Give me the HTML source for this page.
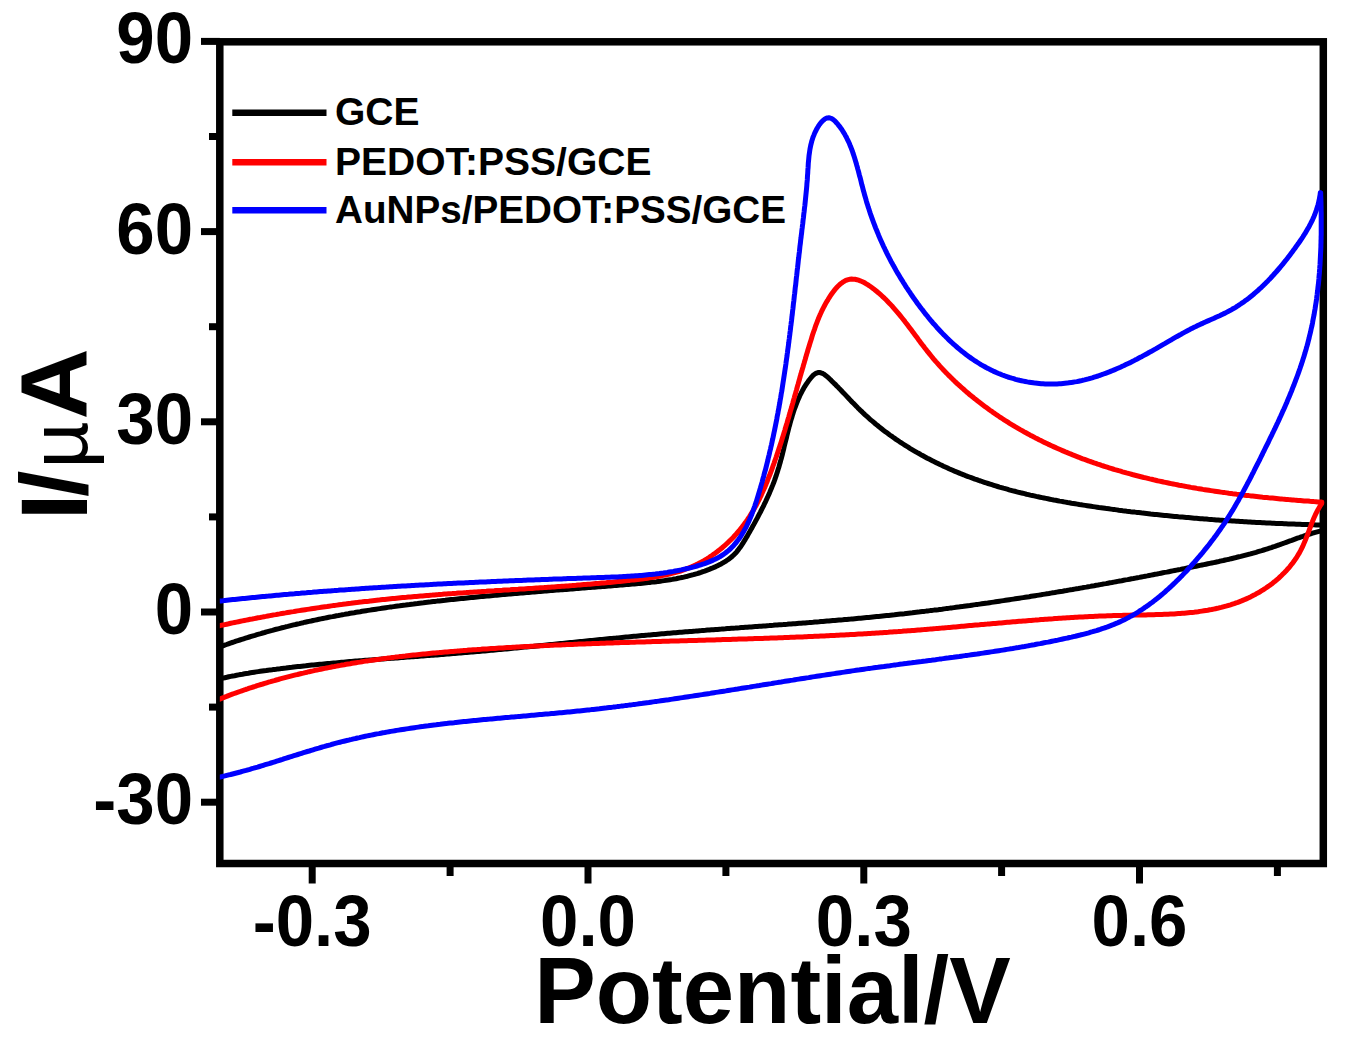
<!DOCTYPE html>
<html><head><meta charset="utf-8"><style>
html,body{margin:0;padding:0;background:#fff;width:1345px;height:1044px;overflow:hidden}
svg{position:absolute;left:0;top:0;display:block}
text{font-family:"Liberation Sans",sans-serif;font-weight:bold;fill:#000}
.tl{font-size:71.5px}
.lg{font-size:39px}
.at{font-size:95px}
</style></head><body>
<svg width="1345" height="1044" viewBox="0 0 1345 1044">
<rect x="0" y="0" width="1345" height="1044" fill="#fff"/>
<line x1="312.2" y1="863.5" x2="312.2" y2="883.5" stroke="#000" stroke-width="7"/>
<line x1="588.0" y1="863.5" x2="588.0" y2="883.5" stroke="#000" stroke-width="7"/>
<line x1="863.8" y1="863.5" x2="863.8" y2="883.5" stroke="#000" stroke-width="7"/>
<line x1="1139.5" y1="863.5" x2="1139.5" y2="883.5" stroke="#000" stroke-width="7"/>
<line x1="450.1" y1="863.5" x2="450.1" y2="876" stroke="#000" stroke-width="7"/>
<line x1="725.9" y1="863.5" x2="725.9" y2="876" stroke="#000" stroke-width="7"/>
<line x1="1001.6" y1="863.5" x2="1001.6" y2="876" stroke="#000" stroke-width="7"/>
<line x1="1277.4" y1="863.5" x2="1277.4" y2="876" stroke="#000" stroke-width="7"/>
<line x1="201" y1="41.4" x2="219.8" y2="41.4" stroke="#000" stroke-width="7"/>
<line x1="201" y1="231.6" x2="219.8" y2="231.6" stroke="#000" stroke-width="7"/>
<line x1="201" y1="421.8" x2="219.8" y2="421.8" stroke="#000" stroke-width="7"/>
<line x1="201" y1="612.0" x2="219.8" y2="612.0" stroke="#000" stroke-width="7"/>
<line x1="201" y1="802.2" x2="219.8" y2="802.2" stroke="#000" stroke-width="7"/>
<line x1="209" y1="136.5" x2="219.8" y2="136.5" stroke="#000" stroke-width="7"/>
<line x1="209" y1="326.7" x2="219.8" y2="326.7" stroke="#000" stroke-width="7"/>
<line x1="209" y1="516.9" x2="219.8" y2="516.9" stroke="#000" stroke-width="7"/>
<line x1="209" y1="707.1" x2="219.8" y2="707.1" stroke="#000" stroke-width="7"/>

<rect x="219.8" y="41.8" width="1103.5" height="821.7" fill="none" stroke="#000" stroke-width="7.5"/>
<clipPath id="c"><rect x="219.8" y="41.8" width="1104.5" height="821.7"/></clipPath>
<g clip-path="url(#c)">
<polyline points="219.0,647.1 220.9,646.5 222.8,645.8 224.7,645.1 226.5,644.5 228.4,643.8 230.3,643.1 232.2,642.5 234.1,641.9 236.0,641.2 237.9,640.6 239.8,640.0 241.7,639.4 243.6,638.8 245.5,638.2 247.4,637.6 249.3,637.0 251.2,636.4 253.1,635.8 255.0,635.3 256.9,634.7 258.9,634.1 260.8,633.6 262.7,633.0 264.6,632.5 266.5,631.9 268.5,631.4 270.4,630.9 272.3,630.4 274.2,629.8 276.2,629.3 278.1,628.8 280.0,628.3 282.0,627.8 283.9,627.3 285.8,626.8 287.8,626.4 289.7,625.9 291.6,625.4 293.6,624.9 295.5,624.5 297.5,624.0 299.4,623.6 301.4,623.1 303.3,622.7 305.2,622.2 307.2,621.8 309.1,621.4 311.1,621.0 313.1,620.5 315.0,620.1 317.0,619.7 318.9,619.3 320.9,618.9 322.8,618.5 324.8,618.1 326.7,617.7 328.7,617.3 330.7,616.9 332.6,616.6 334.6,616.2 336.5,615.8 338.5,615.5 340.5,615.1 342.4,614.7 344.4,614.4 346.4,614.0 348.3,613.7 350.3,613.3 352.3,613.0 354.2,612.7 356.2,612.3 358.2,612.0 360.2,611.7 362.1,611.3 364.1,611.0 366.1,610.7 368.1,610.4 370.0,610.1 372.0,609.8 374.0,609.5 376.0,609.2 377.9,608.9 379.9,608.6 381.9,608.3 383.9,608.0 385.8,607.7 387.8,607.4 389.8,607.1 391.8,606.9 393.7,606.6 395.7,606.3 397.7,606.0 399.7,605.8 401.7,605.5 403.6,605.2 405.6,605.0 407.6,604.7 409.6,604.5 411.6,604.2 413.6,604.0 415.5,603.7 417.5,603.5 419.5,603.2 421.5,603.0 423.5,602.8 425.4,602.5 427.4,602.3 429.4,602.1 431.4,601.8 433.4,601.6 435.3,601.4 437.3,601.1 439.3,600.9 441.3,600.7 443.3,600.5 445.3,600.3 447.2,600.0 449.2,599.8 451.2,599.6 453.2,599.4 455.2,599.2 457.2,599.0 459.1,598.8 461.1,598.6 463.1,598.4 465.1,598.2 467.1,598.0 469.1,597.8 471.0,597.6 473.0,597.4 475.0,597.2 477.0,597.0 479.0,596.8 481.0,596.6 482.9,596.4 484.9,596.2 486.9,596.1 488.9,595.9 490.9,595.7 492.9,595.5 494.9,595.3 496.8,595.2 498.8,595.0 500.8,594.8 502.8,594.6 504.8,594.4 506.8,594.3 508.8,594.1 510.8,593.9 512.7,593.8 514.7,593.6 516.7,593.4 518.7,593.2 520.7,593.1 522.7,592.9 524.7,592.7 526.7,592.6 528.6,592.4 530.6,592.2 532.6,592.1 534.6,591.9 536.6,591.8 538.6,591.6 540.6,591.4 542.6,591.3 544.6,591.1 546.6,590.9 548.5,590.8 550.5,590.6 552.5,590.5 554.5,590.3 556.5,590.1 558.5,590.0 560.5,589.8 562.5,589.7 564.5,589.5 566.5,589.4 568.5,589.2 570.5,589.0 572.5,588.9 574.5,588.7 576.4,588.6 578.4,588.4 580.4,588.3 582.4,588.1 584.4,587.9 586.4,587.8 588.4,587.6 590.4,587.5 592.4,587.3 594.4,587.2 596.4,587.0 598.4,586.8 600.4,586.7 602.4,586.5 604.4,586.4 606.4,586.2 608.4,586.0 610.4,585.9 612.4,585.7 614.4,585.5 616.4,585.4 618.4,585.2 620.4,585.1 622.4,584.9 624.4,584.7 626.4,584.6 628.4,584.4 630.4,584.2 632.4,584.1 634.4,583.9 636.4,583.7 638.4,583.5 640.4,583.4 642.4,583.2 644.4,583.0 646.4,582.8 648.4,582.6 650.4,582.4 652.4,582.1 654.4,581.9 656.4,581.7 658.3,581.4 660.3,581.2 662.3,580.9 664.3,580.6 666.3,580.3 668.2,580.0 670.2,579.7 672.2,579.4 674.1,579.0 676.1,578.7 678.0,578.3 680.0,577.9 681.9,577.5 683.8,577.1 685.8,576.6 687.7,576.2 689.6,575.7 691.5,575.2 693.4,574.7 695.3,574.1 697.2,573.6 699.1,573.0 701.0,572.4 702.9,571.7 704.7,571.1 706.6,570.4 708.5,569.7 710.3,568.9 712.1,568.2 714.0,567.4 715.8,566.6 717.6,565.7 719.4,564.8 721.2,563.9 722.9,562.9 724.6,561.9 726.3,560.8 727.9,559.7 729.5,558.6 731.1,557.3 732.6,556.0 734.0,554.7 735.4,553.3 736.7,551.8 738.0,550.2 739.2,548.6 740.4,547.0 741.5,545.4 742.6,543.7 743.7,541.9 744.8,540.2 745.8,538.4 746.9,536.7 747.9,534.9 748.9,533.1 749.9,531.4 750.9,529.6 751.9,527.9 752.8,526.1 753.8,524.4 754.8,522.6 755.7,520.9 756.7,519.1 757.6,517.4 758.5,515.6 759.4,513.9 760.4,512.1 761.2,510.4 762.1,508.6 763.0,506.9 763.9,505.1 764.7,503.3 765.6,501.6 766.4,499.8 767.2,498.0 768.0,496.3 768.8,494.5 769.6,492.7 770.3,490.9 771.1,489.1 771.8,487.3 772.6,485.4 773.3,483.6 774.0,481.8 774.7,479.9 775.3,478.1 776.0,476.2 776.6,474.3 777.2,472.4 777.8,470.5 778.4,468.6 779.0,466.7 779.5,464.8 780.1,462.8 780.6,460.9 781.2,458.9 781.7,456.9 782.2,455.0 782.7,453.0 783.2,451.0 783.7,449.0 784.1,447.0 784.6,445.0 785.1,443.0 785.6,441.0 786.1,439.1 786.6,437.1 787.0,435.1 787.5,433.1 788.0,431.1 788.5,429.1 789.0,427.1 789.6,425.2 790.1,423.2 790.6,421.3 791.2,419.3 791.8,417.4 792.4,415.4 793.0,413.5 793.6,411.6 794.2,409.7 794.9,407.8 795.6,406.0 796.3,404.1 797.0,402.3 797.7,400.5 798.5,398.7 799.3,396.9 800.1,395.1 801.0,393.4 801.9,391.6 802.8,389.9 803.7,388.3 804.7,386.6 805.7,385.0 806.8,383.4 807.9,381.8 809.0,380.2 810.2,378.7 811.4,377.2 812.6,375.9 813.9,374.7 815.2,373.8 816.6,373.1 818.0,372.6 819.4,372.5 820.8,372.8 822.3,373.3 823.8,374.1 825.3,375.2 826.8,376.4 828.3,377.7 829.7,379.0 831.2,380.4 832.7,381.9 834.1,383.3 835.6,384.7 837.0,386.2 838.4,387.6 839.8,389.1 841.2,390.5 842.6,392.0 844.0,393.4 845.4,394.9 846.8,396.4 848.1,397.8 849.5,399.3 850.9,400.7 852.3,402.2 853.7,403.6 855.1,405.0 856.5,406.4 857.9,407.9 859.3,409.3 860.7,410.7 862.2,412.0 863.6,413.4 865.1,414.8 866.6,416.1 868.1,417.4 869.5,418.8 871.0,420.1 872.6,421.4 874.1,422.7 875.6,424.0 877.2,425.2 878.7,426.5 880.3,427.7 881.9,429.0 883.4,430.2 885.0,431.4 886.6,432.6 888.2,433.8 889.8,435.0 891.5,436.1 893.1,437.3 894.7,438.4 896.4,439.6 898.1,440.7 899.7,441.8 901.4,442.9 903.1,444.0 904.8,445.1 906.5,446.2 908.2,447.2 909.9,448.3 911.6,449.3 913.3,450.3 915.0,451.3 916.8,452.4 918.5,453.3 920.3,454.3 922.0,455.3 923.8,456.3 925.5,457.2 927.3,458.2 929.1,459.1 930.9,460.0 932.7,460.9 934.4,461.8 936.2,462.7 938.0,463.6 939.9,464.5 941.7,465.3 943.5,466.2 945.3,467.0 947.1,467.8 949.0,468.7 950.8,469.5 952.6,470.3 954.5,471.1 956.3,471.8 958.2,472.6 960.0,473.4 961.9,474.1 963.7,474.8 965.6,475.6 967.4,476.3 969.3,477.0 971.2,477.7 973.1,478.4 974.9,479.1 976.8,479.7 978.7,480.4 980.6,481.0 982.5,481.7 984.3,482.3 986.2,482.9 988.1,483.5 990.0,484.1 991.9,484.7 993.8,485.3 995.7,485.9 997.6,486.5 999.5,487.1 1001.4,487.6 1003.4,488.2 1005.3,488.7 1007.2,489.2 1009.1,489.8 1011.0,490.3 1012.9,490.8 1014.9,491.3 1016.8,491.8 1018.7,492.3 1020.7,492.8 1022.6,493.2 1024.5,493.7 1026.5,494.2 1028.4,494.6 1030.3,495.1 1032.3,495.5 1034.2,495.9 1036.2,496.4 1038.1,496.8 1040.1,497.2 1042.0,497.6 1044.0,498.0 1045.9,498.4 1047.9,498.8 1049.8,499.2 1051.8,499.6 1053.7,500.0 1055.7,500.3 1057.7,500.7 1059.6,501.1 1061.6,501.4 1063.5,501.8 1065.5,502.1 1067.5,502.5 1069.4,502.8 1071.4,503.2 1073.4,503.5 1075.3,503.8 1077.3,504.1 1079.3,504.5 1081.3,504.8 1083.2,505.1 1085.2,505.4 1087.2,505.7 1089.2,506.0 1091.1,506.3 1093.1,506.6 1095.1,506.9 1097.1,507.2 1099.0,507.5 1101.0,507.7 1103.0,508.0 1105.0,508.3 1107.0,508.6 1108.9,508.8 1110.9,509.1 1112.9,509.4 1114.9,509.6 1116.9,509.9 1118.8,510.2 1120.8,510.4 1122.8,510.7 1124.8,510.9 1126.8,511.2 1128.8,511.4 1130.7,511.7 1132.7,511.9 1134.7,512.1 1136.7,512.4 1138.7,512.6 1140.7,512.8 1142.7,513.1 1144.6,513.3 1146.6,513.5 1148.6,513.7 1150.6,514.0 1152.6,514.2 1154.6,514.4 1156.6,514.6 1158.6,514.8 1160.5,515.0 1162.5,515.2 1164.5,515.4 1166.5,515.6 1168.5,515.8 1170.5,516.0 1172.5,516.2 1174.5,516.4 1176.5,516.6 1178.5,516.8 1180.4,516.9 1182.4,517.1 1184.4,517.3 1186.4,517.5 1188.4,517.6 1190.4,517.8 1192.4,518.0 1194.4,518.2 1196.4,518.3 1198.4,518.5 1200.4,518.7 1202.4,518.8 1204.3,519.0 1206.3,519.1 1208.3,519.3 1210.3,519.4 1212.3,519.6 1214.3,519.7 1216.3,519.9 1218.3,520.0 1220.3,520.2 1222.3,520.3 1224.3,520.4 1226.3,520.6 1228.3,520.7 1230.3,520.8 1232.3,521.0 1234.3,521.1 1236.3,521.2 1238.2,521.3 1240.2,521.5 1242.2,521.6 1244.2,521.7 1246.2,521.8 1248.2,521.9 1250.2,522.0 1252.2,522.2 1254.2,522.3 1256.2,522.4 1258.2,522.5 1260.2,522.6 1262.2,522.7 1264.2,522.8 1266.2,522.9 1268.2,523.0 1270.2,523.1 1272.1,523.2 1274.1,523.3 1276.1,523.4 1278.1,523.5 1280.1,523.5 1282.1,523.6 1284.1,523.7 1286.1,523.8 1288.1,523.9 1290.1,524.0 1292.1,524.0 1294.1,524.1 1296.1,524.2 1298.1,524.3 1300.1,524.3 1302.0,524.4 1304.0,524.5 1306.0,524.6 1308.0,524.6 1310.0,524.7 1312.0,524.8 1314.0,524.8 1316.0,524.9 1318.0,524.9 1320.0,525.0 1322.0,525.1" fill="none" stroke="#000" stroke-width="5" stroke-linejoin="round" stroke-linecap="round"/>
<polyline points="1322.1,530.6 1320.2,531.1 1318.2,531.6 1316.3,532.1 1314.4,532.6 1312.5,533.2 1310.6,533.8 1308.7,534.4 1306.8,535.0 1304.9,535.6 1303.0,536.3 1301.2,536.9 1299.3,537.6 1297.4,538.2 1295.6,538.9 1293.7,539.6 1291.8,540.3 1290.0,540.9 1288.1,541.6 1286.2,542.3 1284.4,543.0 1282.5,543.7 1280.6,544.3 1278.8,545.0 1276.9,545.6 1275.0,546.3 1273.1,546.9 1271.3,547.6 1269.4,548.2 1267.5,548.8 1265.6,549.4 1263.7,550.0 1261.8,550.6 1259.9,551.1 1258.0,551.7 1256.1,552.3 1254.2,552.8 1252.3,553.3 1250.4,553.9 1248.5,554.4 1246.6,554.9 1244.6,555.4 1242.7,555.9 1240.8,556.4 1238.9,556.8 1236.9,557.3 1235.0,557.8 1233.1,558.2 1231.1,558.7 1229.2,559.2 1227.3,559.6 1225.3,560.0 1223.4,560.5 1221.5,560.9 1219.5,561.3 1217.6,561.8 1215.6,562.2 1213.7,562.6 1211.7,563.0 1209.8,563.4 1207.8,563.8 1205.9,564.2 1203.9,564.6 1202.0,565.0 1200.0,565.4 1198.1,565.8 1196.1,566.2 1194.2,566.6 1192.2,567.0 1190.3,567.4 1188.3,567.8 1186.4,568.2 1184.4,568.6 1182.5,569.0 1180.5,569.4 1178.5,569.7 1176.6,570.1 1174.6,570.5 1172.7,570.9 1170.7,571.3 1168.8,571.7 1166.8,572.1 1164.8,572.4 1162.9,572.8 1160.9,573.2 1159.0,573.6 1157.0,574.0 1155.1,574.3 1153.1,574.7 1151.1,575.1 1149.2,575.5 1147.2,575.9 1145.3,576.2 1143.3,576.6 1141.3,577.0 1139.4,577.4 1137.4,577.7 1135.5,578.1 1133.5,578.5 1131.5,578.8 1129.6,579.2 1127.6,579.6 1125.6,579.9 1123.7,580.3 1121.7,580.7 1119.8,581.0 1117.8,581.4 1115.8,581.8 1113.9,582.1 1111.9,582.5 1109.9,582.8 1108.0,583.2 1106.0,583.6 1104.0,583.9 1102.1,584.3 1100.1,584.6 1098.1,585.0 1096.2,585.3 1094.2,585.7 1092.2,586.0 1090.3,586.4 1088.3,586.7 1086.3,587.1 1084.4,587.4 1082.4,587.8 1080.4,588.1 1078.5,588.5 1076.5,588.8 1074.5,589.1 1072.6,589.5 1070.6,589.8 1068.6,590.1 1066.6,590.5 1064.7,590.8 1062.7,591.2 1060.7,591.5 1058.8,591.8 1056.8,592.1 1054.8,592.5 1052.8,592.8 1050.9,593.1 1048.9,593.5 1046.9,593.8 1045.0,594.1 1043.0,594.4 1041.0,594.8 1039.0,595.1 1037.1,595.4 1035.1,595.7 1033.1,596.0 1031.1,596.3 1029.2,596.7 1027.2,597.0 1025.2,597.3 1023.2,597.6 1021.3,597.9 1019.3,598.2 1017.3,598.5 1015.3,598.8 1013.4,599.1 1011.4,599.4 1009.4,599.7 1007.4,600.0 1005.5,600.3 1003.5,600.6 1001.5,600.9 999.5,601.2 997.6,601.5 995.6,601.8 993.6,602.1 991.6,602.4 989.6,602.7 987.7,603.0 985.7,603.2 983.7,603.5 981.7,603.8 979.8,604.1 977.8,604.4 975.8,604.6 973.8,604.9 971.8,605.2 969.9,605.5 967.9,605.7 965.9,606.0 963.9,606.3 961.9,606.6 960.0,606.8 958.0,607.1 956.0,607.3 954.0,607.6 952.0,607.9 950.1,608.1 948.1,608.4 946.1,608.6 944.1,608.9 942.1,609.2 940.1,609.4 938.2,609.7 936.2,609.9 934.2,610.1 932.2,610.4 930.2,610.6 928.2,610.9 926.3,611.1 924.3,611.4 922.3,611.6 920.3,611.8 918.3,612.1 916.3,612.3 914.4,612.5 912.4,612.8 910.4,613.0 908.4,613.2 906.4,613.4 904.4,613.7 902.5,613.9 900.5,614.1 898.5,614.3 896.5,614.5 894.5,614.8 892.5,615.0 890.5,615.2 888.6,615.4 886.6,615.6 884.6,615.8 882.6,616.0 880.6,616.2 878.6,616.4 876.6,616.6 874.7,616.8 872.7,617.0 870.7,617.2 868.7,617.4 866.7,617.6 864.7,617.8 862.7,618.0 860.7,618.2 858.8,618.3 856.8,618.5 854.8,618.7 852.8,618.9 850.8,619.1 848.8,619.2 846.8,619.4 844.8,619.6 842.8,619.8 840.9,619.9 838.9,620.1 836.9,620.3 834.9,620.5 832.9,620.6 830.9,620.8 828.9,621.0 826.9,621.1 825.0,621.3 823.0,621.5 821.0,621.6 819.0,621.8 817.0,621.9 815.0,622.1 813.0,622.3 811.0,622.4 809.0,622.6 807.0,622.7 805.1,622.9 803.1,623.0 801.1,623.2 799.1,623.3 797.1,623.5 795.1,623.7 793.1,623.8 791.1,624.0 789.1,624.1 787.1,624.3 785.2,624.4 783.2,624.6 781.2,624.7 779.2,624.8 777.2,625.0 775.2,625.1 773.2,625.3 771.2,625.4 769.2,625.6 767.2,625.7 765.3,625.9 763.3,626.0 761.3,626.2 759.3,626.3 757.3,626.5 755.3,626.6 753.3,626.7 751.3,626.9 749.3,627.0 747.3,627.2 745.3,627.3 743.4,627.5 741.4,627.6 739.4,627.8 737.4,627.9 735.4,628.1 733.4,628.2 731.4,628.3 729.4,628.5 727.4,628.6 725.4,628.8 723.5,628.9 721.5,629.1 719.5,629.2 717.5,629.4 715.5,629.5 713.5,629.7 711.5,629.8 709.5,630.0 707.5,630.1 705.5,630.3 703.6,630.4 701.6,630.6 699.6,630.7 697.6,630.9 695.6,631.1 693.6,631.2 691.6,631.4 689.6,631.5 687.6,631.7 685.6,631.8 683.7,632.0 681.7,632.2 679.7,632.3 677.7,632.5 675.7,632.7 673.7,632.8 671.7,633.0 669.7,633.2 667.7,633.3 665.7,633.5 663.8,633.7 661.8,633.8 659.8,634.0 657.8,634.2 655.8,634.4 653.8,634.5 651.8,634.7 649.8,634.9 647.8,635.1 645.9,635.2 643.9,635.4 641.9,635.6 639.9,635.8 637.9,636.0 635.9,636.2 633.9,636.3 631.9,636.5 629.9,636.7 628.0,636.9 626.0,637.1 624.0,637.3 622.0,637.5 620.0,637.7 618.0,637.9 616.0,638.1 614.0,638.2 612.1,638.4 610.1,638.6 608.1,638.8 606.1,639.0 604.1,639.2 602.1,639.4 600.1,639.6 598.1,639.8 596.2,640.0 594.2,640.2 592.2,640.4 590.2,640.6 588.2,640.8 586.2,641.0 584.2,641.2 582.2,641.4 580.3,641.6 578.3,641.8 576.3,642.0 574.3,642.2 572.3,642.4 570.3,642.6 568.3,642.8 566.3,643.0 564.4,643.2 562.4,643.4 560.4,643.6 558.4,643.8 556.4,644.0 554.4,644.2 552.4,644.4 550.4,644.6 548.5,644.8 546.5,645.0 544.5,645.2 542.5,645.4 540.5,645.6 538.5,645.8 536.5,646.0 534.5,646.2 532.6,646.4 530.6,646.6 528.6,646.8 526.6,646.9 524.6,647.1 522.6,647.3 520.6,647.5 518.6,647.7 516.6,647.9 514.7,648.1 512.7,648.3 510.7,648.5 508.7,648.7 506.7,648.9 504.7,649.0 502.7,649.2 500.7,649.4 498.8,649.6 496.8,649.8 494.8,650.0 492.8,650.2 490.8,650.3 488.8,650.5 486.8,650.7 484.8,650.9 482.8,651.1 480.9,651.2 478.9,651.4 476.9,651.6 474.9,651.8 472.9,651.9 470.9,652.1 468.9,652.3 466.9,652.4 464.9,652.6 462.9,652.8 461.0,652.9 459.0,653.1 457.0,653.3 455.0,653.4 453.0,653.6 451.0,653.8 449.0,653.9 447.0,654.1 445.0,654.2 443.0,654.4 441.1,654.5 439.1,654.7 437.1,654.9 435.1,655.0 433.1,655.2 431.1,655.3 429.1,655.5 427.1,655.6 425.1,655.8 423.1,655.9 421.2,656.1 419.2,656.2 417.2,656.4 415.2,656.5 413.2,656.7 411.2,656.8 409.2,657.0 407.2,657.1 405.2,657.3 403.2,657.4 401.2,657.6 399.3,657.7 397.3,657.9 395.3,658.0 393.3,658.2 391.3,658.3 389.3,658.5 387.3,658.6 385.3,658.8 383.3,658.9 381.3,659.1 379.4,659.2 377.4,659.4 375.4,659.5 373.4,659.7 371.4,659.9 369.4,660.0 367.4,660.2 365.4,660.3 363.4,660.5 361.4,660.7 359.5,660.8 357.5,661.0 355.5,661.1 353.5,661.3 351.5,661.5 349.5,661.6 347.5,661.8 345.5,662.0 343.5,662.2 341.6,662.3 339.6,662.5 337.6,662.7 335.6,662.9 333.6,663.0 331.6,663.2 329.6,663.4 327.6,663.6 325.7,663.8 323.7,664.0 321.7,664.2 319.7,664.3 317.7,664.5 315.7,664.7 313.7,664.9 311.8,665.1 309.8,665.3 307.8,665.5 305.8,665.8 303.8,666.0 301.8,666.2 299.9,666.4 297.9,666.6 295.9,666.8 293.9,667.0 291.9,667.3 289.9,667.5 287.9,667.7 286.0,668.0 284.0,668.2 282.0,668.4 280.0,668.7 278.0,668.9 276.1,669.2 274.1,669.4 272.1,669.7 270.1,669.9 268.1,670.2 266.2,670.5 264.2,670.7 262.2,671.0 260.2,671.3 258.3,671.6 256.3,671.9 254.3,672.2 252.3,672.5 250.4,672.8 248.4,673.2 246.4,673.5 244.5,673.8 242.5,674.2 240.5,674.5 238.6,674.9 236.6,675.3 234.6,675.7 232.7,676.0 230.7,676.4 228.8,676.8 226.8,677.3 224.9,677.7 222.9,678.1 220.9,678.6 219.0,679.0" fill="none" stroke="#000" stroke-width="5" stroke-linejoin="round" stroke-linecap="round"/>
<polyline points="219.0,625.9 220.9,625.4 222.9,625.0 224.8,624.6 226.8,624.2 228.7,623.8 230.7,623.3 232.6,622.9 234.6,622.5 236.5,622.1 238.5,621.7 240.5,621.3 242.4,620.9 244.4,620.5 246.3,620.1 248.3,619.7 250.2,619.3 252.2,619.0 254.2,618.6 256.1,618.2 258.1,617.8 260.1,617.5 262.0,617.1 264.0,616.7 265.9,616.4 267.9,616.0 269.9,615.6 271.8,615.3 273.8,614.9 275.8,614.6 277.7,614.2 279.7,613.9 281.7,613.5 283.6,613.2 285.6,612.9 287.6,612.5 289.6,612.2 291.5,611.9 293.5,611.6 295.5,611.2 297.4,610.9 299.4,610.6 301.4,610.3 303.4,610.0 305.3,609.7 307.3,609.4 309.3,609.1 311.3,608.8 313.3,608.5 315.2,608.2 317.2,607.9 319.2,607.6 321.2,607.3 323.1,607.0 325.1,606.7 327.1,606.5 329.1,606.2 331.1,605.9 333.0,605.6 335.0,605.4 337.0,605.1 339.0,604.8 341.0,604.6 343.0,604.3 344.9,604.1 346.9,603.8 348.9,603.5 350.9,603.3 352.9,603.0 354.9,602.8 356.8,602.6 358.8,602.3 360.8,602.1 362.8,601.8 364.8,601.6 366.8,601.4 368.8,601.2 370.7,600.9 372.7,600.7 374.7,600.5 376.7,600.3 378.7,600.1 380.7,599.8 382.7,599.6 384.7,599.4 386.6,599.2 388.6,599.0 390.6,598.8 392.6,598.6 394.6,598.4 396.6,598.2 398.6,598.0 400.6,597.8 402.6,597.6 404.6,597.4 406.5,597.3 408.5,597.1 410.5,596.9 412.5,596.7 414.5,596.5 416.5,596.4 418.5,596.2 420.5,596.0 422.5,595.9 424.5,595.7 426.5,595.5 428.4,595.4 430.4,595.2 432.4,595.1 434.4,594.9 436.4,594.7 438.4,594.6 440.4,594.4 442.4,594.3 444.4,594.1 446.4,594.0 448.4,593.8 450.4,593.7 452.3,593.6 454.3,593.4 456.3,593.3 458.3,593.1 460.3,593.0 462.3,592.9 464.3,592.7 466.3,592.6 468.3,592.4 470.3,592.3 472.3,592.2 474.3,592.0 476.3,591.9 478.3,591.8 480.3,591.7 482.2,591.5 484.2,591.4 486.2,591.3 488.2,591.1 490.2,591.0 492.2,590.9 494.2,590.8 496.2,590.6 498.2,590.5 500.2,590.4 502.2,590.3 504.2,590.1 506.2,590.0 508.2,589.9 510.2,589.8 512.2,589.6 514.1,589.5 516.1,589.4 518.1,589.3 520.1,589.1 522.1,589.0 524.1,588.9 526.1,588.7 528.1,588.6 530.1,588.5 532.1,588.4 534.1,588.2 536.1,588.1 538.1,588.0 540.1,587.8 542.1,587.7 544.1,587.6 546.1,587.4 548.1,587.3 550.0,587.2 552.0,587.0 554.0,586.9 556.0,586.7 558.0,586.6 560.0,586.5 562.0,586.3 564.0,586.2 566.0,586.0 568.0,585.9 570.0,585.7 572.0,585.6 574.0,585.4 576.0,585.3 578.0,585.1 580.0,585.0 581.9,584.8 583.9,584.6 585.9,584.5 587.9,584.3 589.9,584.2 591.9,584.0 593.9,583.8 595.9,583.6 597.9,583.5 599.9,583.3 601.9,583.1 603.9,582.9 605.9,582.8 607.9,582.6 609.9,582.4 611.9,582.2 613.8,582.0 615.8,581.8 617.8,581.6 619.8,581.4 621.8,581.2 623.8,581.0 625.8,580.8 627.8,580.6 629.8,580.4 631.8,580.1 633.8,579.9 635.8,579.7 637.7,579.5 639.7,579.2 641.7,579.0 643.7,578.7 645.7,578.4 647.7,578.2 649.6,577.9 651.6,577.6 653.6,577.3 655.5,576.9 657.5,576.6 659.4,576.2 661.4,575.8 663.3,575.4 665.2,575.0 667.2,574.6 669.1,574.1 671.0,573.7 672.9,573.2 674.8,572.7 676.7,572.1 678.6,571.6 680.5,571.0 682.3,570.4 684.2,569.7 686.0,569.0 687.8,568.3 689.7,567.6 691.5,566.9 693.3,566.1 695.1,565.2 696.9,564.4 698.6,563.5 700.4,562.6 702.1,561.6 703.9,560.6 705.6,559.6 707.3,558.6 709.0,557.5 710.6,556.4 712.3,555.3 713.9,554.1 715.5,553.0 717.1,551.8 718.7,550.5 720.3,549.3 721.9,548.0 723.4,546.7 724.9,545.4 726.4,544.0 727.9,542.6 729.3,541.2 730.8,539.8 732.2,538.4 733.6,537.0 734.9,535.5 736.3,534.0 737.6,532.5 738.9,531.0 740.2,529.4 741.4,527.9 742.6,526.3 743.8,524.7 745.0,523.1 746.2,521.5 747.3,519.9 748.4,518.2 749.5,516.6 750.5,514.9 751.6,513.2 752.6,511.6 753.6,509.9 754.6,508.1 755.5,506.4 756.5,504.7 757.4,502.9 758.3,501.2 759.2,499.4 760.0,497.7 760.9,495.9 761.7,494.1 762.5,492.3 763.3,490.5 764.1,488.7 764.9,486.9 765.7,485.1 766.4,483.2 767.2,481.4 767.9,479.5 768.6,477.7 769.4,475.8 770.1,474.0 770.8,472.1 771.5,470.3 772.2,468.4 772.8,466.5 773.5,464.6 774.2,462.8 774.8,460.9 775.5,459.0 776.2,457.1 776.8,455.2 777.4,453.3 778.1,451.4 778.7,449.5 779.3,447.6 780.0,445.7 780.6,443.8 781.2,441.9 781.8,440.0 782.4,438.1 783.0,436.1 783.6,434.2 784.2,432.3 784.8,430.4 785.3,428.5 785.9,426.5 786.5,424.6 787.1,422.7 787.6,420.8 788.2,418.8 788.8,416.9 789.3,415.0 789.9,413.1 790.4,411.1 791.0,409.2 791.6,407.3 792.1,405.3 792.7,403.4 793.2,401.5 793.7,399.6 794.3,397.6 794.8,395.7 795.4,393.8 795.9,391.9 796.5,389.9 797.0,388.0 797.5,386.1 798.1,384.2 798.6,382.3 799.2,380.3 799.7,378.4 800.2,376.5 800.8,374.6 801.3,372.7 801.9,370.8 802.4,368.9 803.0,367.0 803.5,365.1 804.1,363.2 804.6,361.3 805.2,359.4 805.7,357.5 806.3,355.6 806.8,353.7 807.4,351.9 807.9,350.0 808.5,348.1 809.1,346.3 809.6,344.4 810.2,342.5 810.8,340.7 811.4,338.8 811.9,337.0 812.5,335.1 813.1,333.3 813.7,331.5 814.4,329.6 815.0,327.8 815.6,325.9 816.3,324.1 817.0,322.3 817.7,320.4 818.5,318.6 819.2,316.7 820.0,314.9 820.9,313.0 821.7,311.1 822.6,309.3 823.6,307.4 824.6,305.5 825.6,303.6 826.7,301.7 827.9,299.8 829.1,297.8 830.3,295.9 831.6,294.0 832.9,292.2 834.3,290.4 835.7,288.7 837.2,287.0 838.7,285.5 840.2,284.1 841.8,282.9 843.3,281.8 845.0,280.8 846.6,280.1 848.2,279.6 849.9,279.3 851.6,279.1 853.3,279.2 855.0,279.3 856.8,279.7 858.5,280.2 860.2,280.8 861.9,281.5 863.6,282.3 865.4,283.3 867.1,284.3 868.7,285.4 870.4,286.5 872.1,287.7 873.7,288.9 875.3,290.2 876.9,291.5 878.4,292.8 880.0,294.1 881.5,295.5 882.9,296.8 884.4,298.2 885.8,299.6 887.2,301.0 888.6,302.5 890.0,303.9 891.4,305.4 892.7,306.8 894.0,308.3 895.3,309.8 896.6,311.3 897.9,312.8 899.2,314.4 900.4,315.9 901.7,317.5 902.9,319.0 904.2,320.6 905.4,322.2 906.6,323.7 907.8,325.3 909.0,326.9 910.2,328.5 911.4,330.1 912.6,331.7 913.8,333.3 915.0,334.9 916.2,336.5 917.4,338.1 918.5,339.7 919.7,341.3 920.9,342.9 922.1,344.5 923.4,346.1 924.6,347.7 925.8,349.2 927.0,350.8 928.3,352.4 929.5,353.9 930.8,355.5 932.0,357.0 933.3,358.6 934.6,360.1 935.9,361.6 937.3,363.1 938.6,364.6 939.9,366.1 941.3,367.6 942.7,369.1 944.0,370.6 945.4,372.0 946.8,373.4 948.2,374.9 949.7,376.3 951.1,377.7 952.5,379.1 954.0,380.5 955.4,381.9 956.9,383.3 958.4,384.7 959.9,386.0 961.4,387.4 962.9,388.7 964.4,390.0 965.9,391.4 967.5,392.7 969.0,394.0 970.5,395.3 972.1,396.5 973.7,397.8 975.2,399.1 976.8,400.3 978.4,401.6 980.0,402.8 981.6,404.0 983.2,405.2 984.8,406.4 986.4,407.6 988.0,408.8 989.6,410.0 991.3,411.1 992.9,412.3 994.6,413.4 996.2,414.6 997.9,415.7 999.5,416.8 1001.2,417.9 1002.9,419.0 1004.5,420.1 1006.2,421.1 1007.9,422.2 1009.6,423.3 1011.3,424.3 1013.0,425.3 1014.7,426.4 1016.4,427.4 1018.1,428.4 1019.8,429.4 1021.6,430.4 1023.3,431.3 1025.0,432.3 1026.8,433.3 1028.5,434.2 1030.2,435.2 1032.0,436.1 1033.8,437.0 1035.5,437.9 1037.3,438.8 1039.0,439.7 1040.8,440.6 1042.6,441.5 1044.4,442.4 1046.2,443.2 1048.0,444.1 1049.8,444.9 1051.6,445.8 1053.4,446.6 1055.2,447.4 1057.0,448.2 1058.8,449.0 1060.6,449.8 1062.4,450.6 1064.3,451.4 1066.1,452.2 1067.9,452.9 1069.8,453.7 1071.6,454.4 1073.4,455.2 1075.3,455.9 1077.1,456.6 1079.0,457.3 1080.9,458.1 1082.7,458.8 1084.6,459.4 1086.5,460.1 1088.3,460.8 1090.2,461.5 1092.1,462.1 1094.0,462.8 1095.8,463.4 1097.7,464.1 1099.6,464.7 1101.5,465.4 1103.4,466.0 1105.3,466.6 1107.2,467.2 1109.1,467.8 1111.0,468.4 1112.9,469.0 1114.8,469.6 1116.8,470.1 1118.7,470.7 1120.6,471.2 1122.5,471.8 1124.4,472.3 1126.4,472.9 1128.3,473.4 1130.2,473.9 1132.2,474.5 1134.1,475.0 1136.0,475.5 1138.0,476.0 1139.9,476.5 1141.9,477.0 1143.8,477.5 1145.8,477.9 1147.7,478.4 1149.7,478.9 1151.6,479.3 1153.6,479.8 1155.5,480.2 1157.5,480.7 1159.4,481.1 1161.4,481.5 1163.4,482.0 1165.3,482.4 1167.3,482.8 1169.3,483.2 1171.2,483.6 1173.2,484.0 1175.2,484.4 1177.2,484.8 1179.1,485.2 1181.1,485.5 1183.1,485.9 1185.1,486.3 1187.0,486.6 1189.0,487.0 1191.0,487.4 1193.0,487.7 1195.0,488.0 1196.9,488.4 1198.9,488.7 1200.9,489.0 1202.9,489.4 1204.9,489.7 1206.9,490.0 1208.9,490.3 1210.9,490.6 1212.8,490.9 1214.8,491.2 1216.8,491.5 1218.8,491.8 1220.8,492.1 1222.8,492.4 1224.8,492.6 1226.8,492.9 1228.8,493.2 1230.8,493.4 1232.7,493.7 1234.7,493.9 1236.7,494.2 1238.7,494.4 1240.7,494.7 1242.7,494.9 1244.7,495.2 1246.7,495.4 1248.7,495.6 1250.7,495.9 1252.7,496.1 1254.6,496.3 1256.6,496.5 1258.6,496.7 1260.6,496.9 1262.6,497.2 1264.6,497.4 1266.6,497.6 1268.6,497.8 1270.5,497.9 1272.5,498.1 1274.5,498.3 1276.5,498.5 1278.5,498.7 1280.4,498.9 1282.4,499.1 1284.4,499.2 1286.4,499.4 1288.4,499.6 1290.3,499.7 1292.3,499.9 1294.3,500.1 1296.2,500.2 1298.2,500.4 1300.2,500.5 1302.2,500.7 1304.1,500.9 1306.1,501.0 1308.0,501.1 1310.0,501.3 1312.0,501.4 1313.9,501.6 1315.9,501.7 1317.8,501.9 1319.8,502.0 1321.7,502.1" fill="none" stroke="#f00" stroke-width="5" stroke-linejoin="round" stroke-linecap="round"/>
<polyline points="1322.3,502.7 1321.2,504.3 1320.1,506.0 1319.1,507.7 1318.1,509.4 1317.2,511.1 1316.3,512.9 1315.4,514.7 1314.6,516.5 1313.8,518.3 1313.0,520.2 1312.3,522.0 1311.5,523.9 1310.8,525.8 1310.1,527.7 1309.4,529.6 1308.7,531.5 1308.0,533.4 1307.3,535.3 1306.5,537.2 1305.8,539.1 1305.0,541.0 1304.2,542.9 1303.4,544.7 1302.6,546.6 1301.7,548.4 1300.8,550.2 1299.9,551.9 1298.9,553.7 1297.8,555.4 1296.8,557.1 1295.7,558.8 1294.5,560.4 1293.4,562.1 1292.2,563.7 1290.9,565.2 1289.7,566.8 1288.4,568.3 1287.0,569.8 1285.7,571.3 1284.3,572.7 1282.9,574.1 1281.5,575.5 1280.0,576.9 1278.5,578.3 1277.0,579.6 1275.5,580.9 1273.9,582.1 1272.4,583.4 1270.8,584.6 1269.2,585.7 1267.5,586.9 1265.9,588.0 1264.2,589.1 1262.6,590.2 1260.9,591.2 1259.2,592.3 1257.4,593.2 1255.7,594.2 1254.0,595.1 1252.2,596.0 1250.5,596.9 1248.7,597.8 1246.9,598.6 1245.1,599.4 1243.3,600.1 1241.5,600.9 1239.7,601.6 1237.9,602.3 1236.1,602.9 1234.2,603.6 1232.4,604.2 1230.5,604.8 1228.7,605.3 1226.8,605.9 1224.9,606.4 1223.1,606.9 1221.2,607.4 1219.3,607.8 1217.4,608.3 1215.5,608.7 1213.6,609.1 1211.6,609.5 1209.7,609.8 1207.8,610.2 1205.8,610.5 1203.9,610.8 1201.9,611.1 1200.0,611.4 1198.0,611.7 1196.1,611.9 1194.1,612.2 1192.1,612.4 1190.2,612.6 1188.2,612.8 1186.2,613.0 1184.2,613.2 1182.2,613.3 1180.2,613.5 1178.2,613.6 1176.2,613.7 1174.2,613.9 1172.2,614.0 1170.2,614.1 1168.2,614.2 1166.2,614.3 1164.1,614.3 1162.1,614.4 1160.1,614.5 1158.1,614.6 1156.0,614.6 1154.0,614.7 1152.0,614.7 1150.0,614.8 1147.9,614.8 1145.9,614.9 1143.9,614.9 1141.8,614.9 1139.8,615.0 1137.8,615.0 1135.7,615.1 1133.7,615.1 1131.7,615.1 1129.6,615.2 1127.6,615.2 1125.6,615.3 1123.5,615.3 1121.5,615.4 1119.5,615.4 1117.4,615.5 1115.4,615.5 1113.4,615.6 1111.4,615.7 1109.3,615.7 1107.3,615.8 1105.3,615.9 1103.3,616.0 1101.3,616.0 1099.2,616.1 1097.2,616.2 1095.2,616.3 1093.2,616.4 1091.2,616.5 1089.2,616.6 1087.2,616.7 1085.1,616.8 1083.1,616.9 1081.1,617.0 1079.1,617.1 1077.1,617.2 1075.1,617.3 1073.1,617.5 1071.1,617.6 1069.1,617.7 1067.1,617.8 1065.1,618.0 1063.1,618.1 1061.1,618.2 1059.0,618.3 1057.0,618.5 1055.0,618.6 1053.0,618.8 1051.0,618.9 1049.0,619.0 1047.0,619.2 1045.1,619.3 1043.1,619.5 1041.1,619.6 1039.1,619.8 1037.1,619.9 1035.1,620.1 1033.1,620.2 1031.1,620.4 1029.1,620.5 1027.1,620.7 1025.1,620.9 1023.1,621.0 1021.1,621.2 1019.1,621.3 1017.1,621.5 1015.2,621.7 1013.2,621.8 1011.2,622.0 1009.2,622.2 1007.2,622.3 1005.2,622.5 1003.2,622.7 1001.2,622.9 999.2,623.0 997.3,623.2 995.3,623.4 993.3,623.5 991.3,623.7 989.3,623.9 987.3,624.1 985.3,624.2 983.4,624.4 981.4,624.6 979.4,624.8 977.4,624.9 975.4,625.1 973.4,625.3 971.5,625.5 969.5,625.6 967.5,625.8 965.5,626.0 963.5,626.2 961.6,626.3 959.6,626.5 957.6,626.7 955.6,626.9 953.6,627.0 951.6,627.2 949.7,627.4 947.7,627.6 945.7,627.7 943.7,627.9 941.7,628.1 939.8,628.2 937.8,628.4 935.8,628.6 933.8,628.7 931.8,628.9 929.8,629.1 927.9,629.2 925.9,629.4 923.9,629.6 921.9,629.7 919.9,629.9 917.9,630.0 916.0,630.2 914.0,630.4 912.0,630.5 910.0,630.7 908.0,630.8 906.1,631.0 904.1,631.1 902.1,631.3 900.1,631.4 898.1,631.6 896.1,631.7 894.1,631.8 892.2,632.0 890.2,632.1 888.2,632.3 886.2,632.4 884.2,632.5 882.2,632.7 880.2,632.8 878.3,632.9 876.3,633.0 874.3,633.2 872.3,633.3 870.3,633.4 868.3,633.5 866.3,633.7 864.3,633.8 862.4,633.9 860.4,634.0 858.4,634.1 856.4,634.2 854.4,634.4 852.4,634.5 850.4,634.6 848.4,634.7 846.4,634.8 844.4,634.9 842.5,635.0 840.5,635.1 838.5,635.2 836.5,635.3 834.5,635.4 832.5,635.5 830.5,635.6 828.5,635.7 826.5,635.8 824.5,635.9 822.5,636.0 820.5,636.1 818.6,636.2 816.6,636.3 814.6,636.3 812.6,636.4 810.6,636.5 808.6,636.6 806.6,636.7 804.6,636.8 802.6,636.9 800.6,636.9 798.6,637.0 796.6,637.1 794.6,637.2 792.6,637.3 790.6,637.3 788.6,637.4 786.6,637.5 784.7,637.6 782.7,637.7 780.7,637.7 778.7,637.8 776.7,637.9 774.7,637.9 772.7,638.0 770.7,638.1 768.7,638.2 766.7,638.2 764.7,638.3 762.7,638.4 760.7,638.4 758.7,638.5 756.7,638.6 754.7,638.6 752.7,638.7 750.7,638.8 748.7,638.8 746.7,638.9 744.7,639.0 742.7,639.0 740.7,639.1 738.7,639.1 736.7,639.2 734.7,639.3 732.7,639.3 730.7,639.4 728.7,639.4 726.7,639.5 724.7,639.6 722.7,639.6 720.7,639.7 718.7,639.7 716.7,639.8 714.7,639.9 712.7,639.9 710.7,640.0 708.7,640.0 706.7,640.1 704.7,640.2 702.7,640.2 700.7,640.3 698.7,640.3 696.7,640.4 694.7,640.4 692.7,640.5 690.7,640.6 688.7,640.6 686.7,640.7 684.7,640.7 682.7,640.8 680.7,640.8 678.7,640.9 676.7,640.9 674.7,641.0 672.7,641.1 670.7,641.1 668.7,641.2 666.7,641.2 664.7,641.3 662.7,641.3 660.7,641.4 658.7,641.5 656.7,641.5 654.7,641.6 652.7,641.6 650.7,641.7 648.7,641.8 646.7,641.8 644.7,641.9 642.7,641.9 640.7,642.0 638.7,642.1 636.7,642.1 634.7,642.2 632.7,642.2 630.7,642.3 628.7,642.4 626.7,642.4 624.7,642.5 622.7,642.6 620.7,642.6 618.7,642.7 616.7,642.8 614.7,642.8 612.7,642.9 610.7,643.0 608.7,643.0 606.7,643.1 604.7,643.2 602.7,643.2 600.7,643.3 598.7,643.4 596.7,643.4 594.7,643.5 592.8,643.6 590.8,643.7 588.8,643.7 586.8,643.8 584.8,643.9 582.8,644.0 580.8,644.0 578.8,644.1 576.8,644.2 574.8,644.3 572.8,644.4 570.8,644.4 568.8,644.5 566.8,644.6 564.8,644.7 562.8,644.8 560.8,644.9 558.8,645.0 556.8,645.0 554.8,645.1 552.8,645.2 550.8,645.3 548.8,645.4 546.8,645.5 544.8,645.6 542.8,645.7 540.8,645.8 538.8,645.9 536.8,646.0 534.8,646.1 532.8,646.2 530.8,646.3 528.8,646.4 526.8,646.5 524.8,646.6 522.8,646.7 520.8,646.8 518.8,646.9 516.8,647.0 514.8,647.2 512.8,647.3 510.9,647.4 508.9,647.5 506.9,647.6 504.9,647.7 502.9,647.9 500.9,648.0 498.9,648.1 496.9,648.2 494.9,648.4 492.9,648.5 490.9,648.6 488.9,648.7 486.9,648.9 484.9,649.0 482.9,649.1 480.9,649.3 479.0,649.4 477.0,649.6 475.0,649.7 473.0,649.8 471.0,650.0 469.0,650.1 467.0,650.3 465.0,650.4 463.0,650.6 461.0,650.7 459.0,650.9 457.0,651.1 455.1,651.2 453.1,651.4 451.1,651.5 449.1,651.7 447.1,651.9 445.1,652.0 443.1,652.2 441.1,652.4 439.1,652.6 437.2,652.7 435.2,652.9 433.2,653.1 431.2,653.3 429.2,653.5 427.2,653.7 425.2,653.9 423.2,654.1 421.3,654.3 419.3,654.5 417.3,654.7 415.3,654.9 413.3,655.1 411.3,655.3 409.4,655.5 407.4,655.7 405.4,656.0 403.4,656.2 401.4,656.4 399.5,656.6 397.5,656.9 395.5,657.1 393.5,657.4 391.5,657.6 389.6,657.9 387.6,658.1 385.6,658.4 383.6,658.6 381.7,658.9 379.7,659.2 377.7,659.4 375.7,659.7 373.8,660.0 371.8,660.3 369.8,660.6 367.9,660.9 365.9,661.1 363.9,661.4 362.0,661.7 360.0,662.1 358.0,662.4 356.1,662.7 354.1,663.0 352.1,663.3 350.2,663.7 348.2,664.0 346.2,664.3 344.3,664.7 342.3,665.0 340.4,665.4 338.4,665.7 336.4,666.1 334.5,666.5 332.5,666.8 330.6,667.2 328.6,667.6 326.7,668.0 324.7,668.4 322.8,668.8 320.8,669.2 318.9,669.6 316.9,670.0 315.0,670.4 313.0,670.9 311.1,671.3 309.1,671.7 307.2,672.2 305.3,672.6 303.3,673.1 301.4,673.5 299.4,674.0 297.5,674.5 295.6,674.9 293.6,675.4 291.7,675.9 289.8,676.4 287.8,676.9 285.9,677.4 284.0,677.9 282.0,678.4 280.1,678.9 278.2,679.5 276.3,680.0 274.3,680.6 272.4,681.1 270.5,681.7 268.6,682.2 266.6,682.8 264.7,683.4 262.8,684.0 260.9,684.5 259.0,685.1 257.1,685.7 255.2,686.4 253.2,687.0 251.3,687.6 249.4,688.2 247.5,688.9 245.6,689.5 243.7,690.2 241.8,690.8 239.9,691.5 238.0,692.2 236.1,692.8 234.2,693.5 232.3,694.2 230.4,694.9 228.5,695.6 226.6,696.4 224.7,697.1 222.9,697.8 221.0,698.6 219.1,699.3" fill="none" stroke="#f00" stroke-width="5" stroke-linejoin="round" stroke-linecap="round"/>
<polyline points="218.9,601.1 220.9,600.9 222.9,600.7 224.9,600.4 226.8,600.2 228.8,600.0 230.8,599.8 232.8,599.6 234.8,599.4 236.8,599.2 238.7,599.0 240.7,598.8 242.7,598.6 244.7,598.4 246.7,598.2 248.7,598.0 250.6,597.8 252.6,597.6 254.6,597.4 256.6,597.2 258.6,597.0 260.6,596.8 262.6,596.6 264.5,596.4 266.5,596.2 268.5,596.1 270.5,595.9 272.5,595.7 274.5,595.5 276.5,595.3 278.5,595.2 280.4,595.0 282.4,594.8 284.4,594.6 286.4,594.4 288.4,594.3 290.4,594.1 292.4,593.9 294.4,593.8 296.4,593.6 298.3,593.4 300.3,593.3 302.3,593.1 304.3,592.9 306.3,592.8 308.3,592.6 310.3,592.4 312.3,592.3 314.3,592.1 316.3,592.0 318.2,591.8 320.2,591.6 322.2,591.5 324.2,591.3 326.2,591.2 328.2,591.0 330.2,590.9 332.2,590.7 334.2,590.6 336.2,590.4 338.2,590.3 340.1,590.1 342.1,590.0 344.1,589.9 346.1,589.7 348.1,589.6 350.1,589.4 352.1,589.3 354.1,589.2 356.1,589.0 358.1,588.9 360.1,588.7 362.1,588.6 364.1,588.5 366.1,588.3 368.0,588.2 370.0,588.1 372.0,588.0 374.0,587.8 376.0,587.7 378.0,587.6 380.0,587.4 382.0,587.3 384.0,587.2 386.0,587.1 388.0,586.9 390.0,586.8 392.0,586.7 394.0,586.6 396.0,586.5 398.0,586.3 400.0,586.2 402.0,586.1 403.9,586.0 405.9,585.9 407.9,585.8 409.9,585.7 411.9,585.5 413.9,585.4 415.9,585.3 417.9,585.2 419.9,585.1 421.9,585.0 423.9,584.9 425.9,584.8 427.9,584.7 429.9,584.6 431.9,584.4 433.9,584.3 435.9,584.2 437.9,584.1 439.9,584.0 441.9,583.9 443.9,583.8 445.9,583.7 447.9,583.6 449.9,583.5 451.9,583.4 453.8,583.3 455.8,583.2 457.8,583.1 459.8,583.0 461.8,583.0 463.8,582.9 465.8,582.8 467.8,582.7 469.8,582.6 471.8,582.5 473.8,582.4 475.8,582.3 477.8,582.2 479.8,582.1 481.8,582.0 483.8,581.9 485.8,581.9 487.8,581.8 489.8,581.7 491.8,581.6 493.8,581.5 495.8,581.4 497.8,581.3 499.8,581.3 501.8,581.2 503.8,581.1 505.8,581.0 507.8,580.9 509.8,580.8 511.8,580.8 513.8,580.7 515.8,580.6 517.8,580.5 519.8,580.4 521.7,580.4 523.7,580.3 525.7,580.2 527.7,580.1 529.7,580.0 531.7,580.0 533.7,579.9 535.7,579.8 537.7,579.7 539.7,579.7 541.7,579.6 543.7,579.5 545.7,579.4 547.7,579.4 549.7,579.3 551.7,579.2 553.7,579.1 555.7,579.1 557.7,579.0 559.7,578.9 561.7,578.9 563.7,578.8 565.7,578.7 567.7,578.6 569.7,578.6 571.7,578.5 573.7,578.4 575.7,578.4 577.7,578.3 579.7,578.2 581.7,578.2 583.6,578.1 585.6,578.0 587.6,577.9 589.6,577.9 591.6,577.8 593.6,577.7 595.6,577.7 597.6,577.6 599.6,577.5 601.6,577.5 603.6,577.4 605.6,577.3 607.6,577.3 609.6,577.2 611.6,577.1 613.6,577.0 615.6,576.9 617.6,576.9 619.6,576.8 621.6,576.7 623.5,576.6 625.5,576.5 627.5,576.3 629.5,576.2 631.5,576.1 633.5,576.0 635.5,575.8 637.5,575.7 639.5,575.5 641.5,575.4 643.5,575.2 645.5,575.0 647.4,574.8 649.4,574.6 651.4,574.4 653.4,574.2 655.4,574.0 657.4,573.7 659.4,573.5 661.4,573.2 663.3,573.0 665.3,572.7 667.3,572.4 669.3,572.0 671.3,571.7 673.3,571.4 675.2,571.0 677.2,570.6 679.2,570.3 681.2,569.9 683.2,569.4 685.1,569.0 687.1,568.5 689.1,568.1 691.1,567.6 693.0,567.1 695.0,566.6 697.0,566.0 698.9,565.4 700.8,564.8 702.8,564.2 704.7,563.6 706.6,562.9 708.4,562.2 710.3,561.4 712.1,560.6 713.9,559.8 715.6,559.0 717.4,558.1 719.1,557.1 720.7,556.2 722.3,555.1 723.9,554.1 725.4,553.0 726.9,551.8 728.4,550.6 729.8,549.3 731.1,548.1 732.4,546.7 733.7,545.4 735.0,543.9 736.2,542.5 737.3,541.0 738.5,539.5 739.6,538.0 740.7,536.4 741.7,534.8 742.7,533.1 743.7,531.4 744.6,529.7 745.6,528.0 746.5,526.3 747.3,524.5 748.2,522.7 749.0,520.9 749.8,519.1 750.6,517.2 751.4,515.3 752.1,513.4 752.8,511.5 753.5,509.6 754.2,507.7 754.9,505.8 755.5,503.8 756.2,501.9 756.8,499.9 757.4,497.9 758.0,496.0 758.6,494.0 759.2,492.0 759.8,490.0 760.4,488.0 760.9,486.1 761.5,484.1 762.1,482.1 762.6,480.1 763.1,478.2 763.7,476.2 764.2,474.2 764.7,472.2 765.3,470.3 765.8,468.3 766.3,466.3 766.8,464.3 767.3,462.4 767.8,460.4 768.2,458.4 768.7,456.5 769.2,454.5 769.6,452.5 770.1,450.5 770.6,448.6 771.0,446.6 771.5,444.6 771.9,442.7 772.3,440.7 772.8,438.7 773.2,436.8 773.6,434.8 774.0,432.8 774.4,430.9 774.8,428.9 775.2,426.9 775.6,424.9 776.0,423.0 776.4,421.0 776.8,419.0 777.1,417.1 777.5,415.1 777.9,413.2 778.2,411.2 778.6,409.2 779.0,407.3 779.3,405.3 779.7,403.3 780.0,401.4 780.3,399.4 780.7,397.4 781.0,395.5 781.3,393.5 781.7,391.5 782.0,389.6 782.3,387.6 782.6,385.6 782.9,383.7 783.2,381.7 783.5,379.8 783.8,377.8 784.1,375.8 784.4,373.9 784.7,371.9 785.0,369.9 785.3,368.0 785.6,366.0 785.9,364.0 786.1,362.1 786.4,360.1 786.7,358.2 787.0,356.2 787.2,354.2 787.5,352.3 787.7,350.3 788.0,348.3 788.3,346.4 788.5,344.4 788.8,342.4 789.0,340.5 789.3,338.5 789.5,336.5 789.8,334.6 790.0,332.6 790.3,330.6 790.5,328.7 790.7,326.7 791.0,324.8 791.2,322.8 791.5,320.8 791.7,318.9 791.9,316.9 792.2,314.9 792.4,313.0 792.6,311.0 792.9,309.0 793.1,307.0 793.3,305.1 793.5,303.1 793.8,301.1 794.0,299.2 794.2,297.2 794.4,295.2 794.7,293.3 794.9,291.3 795.1,289.3 795.3,287.3 795.6,285.4 795.8,283.4 796.0,281.4 796.2,279.5 796.4,277.5 796.7,275.5 796.9,273.5 797.1,271.6 797.3,269.6 797.6,267.6 797.8,265.6 798.0,263.7 798.2,261.7 798.4,259.7 798.7,257.7 798.9,255.7 799.1,253.8 799.4,251.8 799.6,249.8 799.8,247.8 800.0,245.8 800.3,243.9 800.5,241.9 800.7,239.9 801.0,237.9 801.2,235.9 801.5,233.9 801.7,232.0 801.9,230.0 802.2,228.0 802.4,226.0 802.7,224.0 802.9,222.0 803.1,220.0 803.4,218.0 803.6,216.0 803.8,214.0 804.1,212.0 804.3,210.0 804.5,208.0 804.8,206.0 805.0,204.0 805.2,202.0 805.4,200.0 805.6,198.0 805.8,196.0 806.0,194.0 806.2,191.9 806.4,189.9 806.6,187.9 806.8,185.8 806.9,183.8 807.1,181.8 807.3,179.7 807.4,177.7 807.5,175.6 807.7,173.6 807.8,171.5 807.9,169.5 808.1,167.4 808.2,165.3 808.3,163.3 808.5,161.2 808.7,159.2 808.9,157.1 809.1,155.1 809.4,153.1 809.7,151.0 810.0,149.0 810.4,147.0 810.8,145.0 811.3,143.1 811.8,141.1 812.4,139.2 813.0,137.3 813.8,135.4 814.5,133.5 815.4,131.6 816.3,129.8 817.3,128.0 818.4,126.2 819.5,124.5 820.7,122.9 822.0,121.5 823.3,120.2 824.6,119.2 826.0,118.4 827.4,117.9 828.7,117.8 830.1,118.0 831.5,118.5 832.8,119.3 834.2,120.4 835.5,121.6 836.7,123.0 838.0,124.4 839.1,125.9 840.3,127.4 841.4,128.9 842.4,130.5 843.4,132.1 844.4,133.7 845.3,135.4 846.3,137.1 847.1,138.8 848.0,140.6 848.8,142.3 849.6,144.1 850.3,146.0 851.1,147.8 851.8,149.7 852.5,151.5 853.1,153.4 853.8,155.4 854.4,157.3 855.0,159.2 855.6,161.2 856.2,163.2 856.7,165.2 857.3,167.1 857.8,169.1 858.4,171.1 858.9,173.2 859.4,175.2 860.0,177.2 860.5,179.2 861.0,181.2 861.5,183.3 862.0,185.3 862.6,187.3 863.1,189.3 863.6,191.3 864.2,193.3 864.7,195.3 865.3,197.3 865.9,199.3 866.4,201.2 867.0,203.2 867.6,205.1 868.2,207.1 868.9,209.0 869.5,210.9 870.1,212.8 870.8,214.8 871.4,216.7 872.1,218.5 872.8,220.4 873.5,222.3 874.2,224.2 874.9,226.0 875.6,227.9 876.4,229.7 877.1,231.6 877.9,233.4 878.6,235.2 879.4,237.1 880.2,238.9 881.0,240.7 881.8,242.5 882.6,244.3 883.4,246.1 884.3,247.8 885.1,249.6 886.0,251.4 886.8,253.1 887.7,254.9 888.6,256.7 889.5,258.4 890.4,260.1 891.3,261.9 892.3,263.6 893.2,265.3 894.2,267.0 895.1,268.7 896.1,270.5 897.1,272.2 898.1,273.9 899.1,275.5 900.1,277.2 901.1,278.9 902.2,280.6 903.2,282.3 904.3,283.9 905.3,285.6 906.4,287.3 907.5,288.9 908.6,290.6 909.7,292.2 910.8,293.9 911.9,295.5 913.1,297.2 914.2,298.8 915.4,300.4 916.5,302.0 917.7,303.7 918.9,305.3 920.1,306.9 921.3,308.5 922.6,310.1 923.8,311.7 925.0,313.3 926.3,314.9 927.6,316.4 928.8,318.0 930.1,319.6 931.4,321.1 932.7,322.7 934.1,324.2 935.4,325.7 936.7,327.2 938.1,328.7 939.5,330.2 940.9,331.7 942.2,333.1 943.6,334.6 945.1,336.0 946.5,337.4 947.9,338.9 949.4,340.3 950.8,341.6 952.3,343.0 953.8,344.4 955.3,345.7 956.8,347.0 958.3,348.3 959.9,349.6 961.4,350.9 963.0,352.1 964.5,353.3 966.1,354.6 967.7,355.7 969.3,356.9 971.0,358.1 972.6,359.2 974.2,360.3 975.9,361.4 977.6,362.5 979.2,363.5 980.9,364.6 982.7,365.6 984.4,366.5 986.1,367.5 987.9,368.4 989.6,369.3 991.4,370.2 993.2,371.1 995.0,371.9 996.8,372.7 998.6,373.5 1000.5,374.2 1002.3,375.0 1004.2,375.7 1006.1,376.3 1007.9,377.0 1009.8,377.6 1011.8,378.2 1013.7,378.7 1015.6,379.3 1017.5,379.8 1019.5,380.3 1021.4,380.7 1023.4,381.1 1025.3,381.5 1027.3,381.9 1029.3,382.2 1031.2,382.5 1033.2,382.8 1035.2,383.1 1037.2,383.3 1039.2,383.5 1041.2,383.7 1043.1,383.8 1045.1,383.9 1047.1,384.0 1049.1,384.0 1051.1,384.0 1053.1,384.0 1055.1,384.0 1057.1,383.9 1059.1,383.8 1061.0,383.7 1063.0,383.5 1065.0,383.3 1067.0,383.1 1068.9,382.8 1070.9,382.6 1072.9,382.2 1074.8,381.9 1076.8,381.6 1078.7,381.2 1080.7,380.8 1082.6,380.3 1084.5,379.9 1086.5,379.4 1088.4,378.9 1090.3,378.3 1092.2,377.8 1094.1,377.2 1096.1,376.6 1098.0,376.0 1099.9,375.3 1101.7,374.7 1103.6,374.0 1105.5,373.3 1107.4,372.6 1109.3,371.9 1111.1,371.1 1113.0,370.4 1114.9,369.6 1116.7,368.8 1118.6,368.0 1120.4,367.2 1122.3,366.3 1124.1,365.5 1125.9,364.6 1127.7,363.7 1129.6,362.9 1131.4,362.0 1133.2,361.1 1135.0,360.1 1136.8,359.2 1138.5,358.3 1140.3,357.3 1142.1,356.4 1143.9,355.4 1145.6,354.5 1147.4,353.5 1149.1,352.5 1150.9,351.6 1152.6,350.6 1154.3,349.6 1156.1,348.6 1157.8,347.6 1159.5,346.6 1161.2,345.6 1162.9,344.6 1164.7,343.6 1166.4,342.6 1168.1,341.6 1169.8,340.6 1171.5,339.7 1173.2,338.7 1174.9,337.7 1176.6,336.7 1178.4,335.7 1180.1,334.8 1181.8,333.8 1183.5,332.9 1185.3,331.9 1187.0,331.0 1188.8,330.1 1190.5,329.1 1192.3,328.2 1194.1,327.3 1195.9,326.5 1197.7,325.6 1199.5,324.7 1201.3,323.9 1203.1,323.1 1204.9,322.2 1206.8,321.4 1208.6,320.6 1210.5,319.8 1212.3,319.0 1214.1,318.2 1216.0,317.3 1217.8,316.5 1219.7,315.7 1221.5,314.8 1223.3,313.9 1225.1,313.1 1226.9,312.1 1228.6,311.2 1230.4,310.3 1232.1,309.3 1233.9,308.3 1235.6,307.3 1237.3,306.2 1238.9,305.1 1240.6,304.0 1242.2,302.9 1243.9,301.8 1245.5,300.6 1247.1,299.4 1248.7,298.2 1250.2,297.0 1251.8,295.7 1253.3,294.5 1254.8,293.2 1256.3,291.9 1257.8,290.6 1259.3,289.2 1260.8,287.9 1262.2,286.5 1263.7,285.1 1265.1,283.7 1266.5,282.3 1267.9,280.9 1269.3,279.4 1270.7,278.0 1272.0,276.5 1273.4,275.0 1274.7,273.5 1276.1,272.0 1277.4,270.5 1278.7,269.0 1280.0,267.5 1281.3,265.9 1282.6,264.4 1283.8,262.8 1285.1,261.2 1286.3,259.7 1287.6,258.1 1288.8,256.5 1290.0,254.9 1291.2,253.3 1292.4,251.7 1293.6,250.1 1294.8,248.5 1296.0,246.8 1297.1,245.2 1298.3,243.6 1299.4,242.0 1300.6,240.3 1301.7,238.7 1302.8,237.0 1303.8,235.3 1304.9,233.7 1305.9,232.0 1306.9,230.3 1307.9,228.6 1308.9,226.9 1309.8,225.1 1310.7,223.4 1311.6,221.6 1312.5,219.8 1313.3,218.0 1314.1,216.2 1314.8,214.4 1315.5,212.5 1316.2,210.6 1316.8,208.7 1317.4,206.8 1318.0,204.9 1318.5,202.9 1318.9,200.9 1319.4,198.9 1319.7,196.9 1320.1,194.8 1320.3,192.8" fill="none" stroke="#00f" stroke-width="5" stroke-linejoin="round" stroke-linecap="round"/>
<polyline points="1320.7,193.0 1320.7,195.0 1320.8,197.0 1320.9,199.0 1320.9,201.0 1321.0,202.9 1321.0,204.9 1321.1,206.9 1321.1,208.9 1321.1,210.9 1321.2,212.9 1321.2,214.9 1321.2,216.9 1321.2,218.9 1321.2,220.9 1321.2,222.9 1321.2,224.8 1321.2,226.8 1321.2,228.8 1321.2,230.8 1321.2,232.8 1321.2,234.9 1321.1,236.9 1321.1,238.9 1321.0,240.9 1321.0,242.9 1320.9,244.9 1320.9,246.9 1320.8,248.9 1320.7,250.9 1320.6,252.9 1320.5,254.9 1320.4,256.9 1320.3,258.9 1320.2,260.9 1320.1,262.9 1320.0,264.9 1319.8,266.9 1319.7,268.9 1319.5,270.9 1319.4,272.9 1319.2,274.9 1319.0,276.9 1318.9,278.9 1318.7,280.9 1318.5,282.9 1318.3,284.9 1318.0,286.9 1317.8,288.9 1317.6,290.9 1317.3,292.9 1317.1,294.8 1316.8,296.8 1316.6,298.8 1316.3,300.8 1316.0,302.8 1315.7,304.7 1315.4,306.7 1315.1,308.7 1314.7,310.7 1314.4,312.6 1314.1,314.6 1313.7,316.6 1313.3,318.5 1312.9,320.5 1312.6,322.4 1312.2,324.4 1311.8,326.4 1311.3,328.3 1310.9,330.2 1310.5,332.2 1310.0,334.1 1309.5,336.1 1309.1,338.0 1308.6,339.9 1308.1,341.9 1307.6,343.8 1307.1,345.7 1306.5,347.6 1306.0,349.5 1305.4,351.4 1304.9,353.3 1304.3,355.3 1303.7,357.2 1303.1,359.0 1302.5,360.9 1301.9,362.8 1301.3,364.7 1300.6,366.6 1300.0,368.5 1299.3,370.4 1298.7,372.2 1298.0,374.1 1297.3,376.0 1296.6,377.9 1295.9,379.7 1295.2,381.6 1294.5,383.4 1293.8,385.3 1293.0,387.2 1292.3,389.0 1291.6,390.9 1290.8,392.7 1290.1,394.6 1289.3,396.4 1288.5,398.2 1287.7,400.1 1287.0,401.9 1286.2,403.7 1285.4,405.6 1284.6,407.4 1283.8,409.2 1282.9,411.1 1282.1,412.9 1281.3,414.7 1280.5,416.5 1279.6,418.4 1278.8,420.2 1278.0,422.0 1277.1,423.8 1276.3,425.6 1275.4,427.4 1274.6,429.2 1273.7,431.0 1272.8,432.8 1272.0,434.6 1271.1,436.4 1270.2,438.2 1269.3,440.0 1268.5,441.8 1267.6,443.6 1266.7,445.4 1265.8,447.2 1264.9,449.0 1264.0,450.8 1263.1,452.6 1262.3,454.4 1261.4,456.2 1260.5,458.0 1259.6,459.8 1258.7,461.6 1257.8,463.3 1256.9,465.1 1256.0,466.9 1255.1,468.7 1254.2,470.5 1253.3,472.3 1252.4,474.0 1251.5,475.8 1250.6,477.6 1249.7,479.4 1248.8,481.1 1247.8,482.9 1246.9,484.7 1246.0,486.4 1245.0,488.2 1244.1,489.9 1243.2,491.7 1242.2,493.4 1241.3,495.2 1240.3,496.9 1239.3,498.6 1238.4,500.4 1237.4,502.1 1236.4,503.8 1235.4,505.5 1234.4,507.3 1233.4,509.0 1232.4,510.7 1231.3,512.4 1230.3,514.0 1229.3,515.7 1228.2,517.4 1227.1,519.1 1226.1,520.7 1225.0,522.4 1223.9,524.1 1222.8,525.7 1221.6,527.3 1220.5,529.0 1219.4,530.6 1218.2,532.2 1217.1,533.8 1215.9,535.5 1214.7,537.1 1213.5,538.7 1212.3,540.2 1211.1,541.8 1209.9,543.4 1208.7,545.0 1207.4,546.6 1206.2,548.1 1204.9,549.7 1203.7,551.2 1202.4,552.8 1201.1,554.3 1199.8,555.9 1198.5,557.4 1197.2,558.9 1195.9,560.5 1194.6,562.0 1193.2,563.5 1191.9,565.0 1190.6,566.5 1189.2,568.0 1187.8,569.5 1186.5,571.0 1185.1,572.4 1183.7,573.9 1182.3,575.4 1180.9,576.8 1179.5,578.2 1178.0,579.7 1176.6,581.1 1175.2,582.5 1173.7,583.9 1172.2,585.3 1170.8,586.7 1169.3,588.0 1167.8,589.4 1166.3,590.7 1164.8,592.1 1163.3,593.4 1161.7,594.7 1160.2,596.0 1158.7,597.2 1157.1,598.5 1155.5,599.7 1154.0,600.9 1152.4,602.2 1150.8,603.3 1149.2,604.5 1147.6,605.7 1145.9,606.8 1144.3,607.9 1142.7,609.1 1141.0,610.1 1139.3,611.2 1137.7,612.3 1136.0,613.3 1134.3,614.3 1132.6,615.3 1130.9,616.2 1129.2,617.2 1127.4,618.1 1125.7,619.0 1123.9,619.9 1122.1,620.7 1120.4,621.6 1118.6,622.4 1116.8,623.2 1115.0,623.9 1113.2,624.7 1111.3,625.4 1109.5,626.1 1107.6,626.8 1105.8,627.5 1103.9,628.1 1102.1,628.7 1100.2,629.4 1098.3,630.0 1096.4,630.6 1094.5,631.1 1092.6,631.7 1090.7,632.2 1088.8,632.8 1086.9,633.3 1085.0,633.8 1083.1,634.3 1081.1,634.8 1079.2,635.3 1077.3,635.7 1075.3,636.2 1073.4,636.6 1071.5,637.1 1069.5,637.5 1067.6,638.0 1065.6,638.4 1063.7,638.8 1061.7,639.2 1059.8,639.6 1057.8,640.1 1055.9,640.5 1053.9,640.9 1052.0,641.3 1050.0,641.7 1048.1,642.1 1046.1,642.4 1044.1,642.8 1042.2,643.2 1040.2,643.6 1038.3,643.9 1036.3,644.3 1034.3,644.7 1032.4,645.0 1030.4,645.4 1028.4,645.8 1026.5,646.1 1024.5,646.5 1022.6,646.8 1020.6,647.1 1018.6,647.5 1016.6,647.8 1014.7,648.1 1012.7,648.5 1010.7,648.8 1008.8,649.1 1006.8,649.4 1004.8,649.8 1002.8,650.1 1000.9,650.4 998.9,650.7 996.9,651.0 994.9,651.3 993.0,651.6 991.0,651.9 989.0,652.2 987.0,652.5 985.1,652.8 983.1,653.1 981.1,653.4 979.1,653.7 977.1,654.0 975.2,654.2 973.2,654.5 971.2,654.8 969.2,655.1 967.2,655.4 965.3,655.6 963.3,655.9 961.3,656.2 959.3,656.5 957.3,656.7 955.3,657.0 953.4,657.3 951.4,657.5 949.4,657.8 947.4,658.1 945.4,658.3 943.4,658.6 941.5,658.9 939.5,659.1 937.5,659.4 935.5,659.7 933.5,659.9 931.5,660.2 929.5,660.4 927.6,660.7 925.6,661.0 923.6,661.2 921.6,661.5 919.6,661.7 917.6,662.0 915.6,662.3 913.6,662.5 911.7,662.8 909.7,663.0 907.7,663.3 905.7,663.6 903.7,663.8 901.7,664.1 899.7,664.3 897.8,664.6 895.8,664.9 893.8,665.1 891.8,665.4 889.8,665.7 887.8,665.9 885.9,666.2 883.9,666.5 881.9,666.7 879.9,667.0 877.9,667.3 875.9,667.5 874.0,667.8 872.0,668.1 870.0,668.4 868.0,668.6 866.0,668.9 864.0,669.2 862.1,669.5 860.1,669.8 858.1,670.1 856.1,670.3 854.1,670.6 852.2,670.9 850.2,671.2 848.2,671.5 846.2,671.8 844.3,672.1 842.3,672.4 840.3,672.7 838.3,673.0 836.3,673.3 834.4,673.6 832.4,673.9 830.4,674.2 828.4,674.5 826.5,674.8 824.5,675.1 822.5,675.4 820.5,675.7 818.6,676.0 816.6,676.3 814.6,676.6 812.6,676.9 810.7,677.2 808.7,677.6 806.7,677.9 804.7,678.2 802.8,678.5 800.8,678.8 798.8,679.1 796.9,679.4 794.9,679.7 792.9,680.1 790.9,680.4 789.0,680.7 787.0,681.0 785.0,681.3 783.1,681.6 781.1,682.0 779.1,682.3 777.1,682.6 775.2,682.9 773.2,683.2 771.2,683.6 769.3,683.9 767.3,684.2 765.3,684.5 763.3,684.8 761.4,685.1 759.4,685.5 757.4,685.8 755.5,686.1 753.5,686.4 751.5,686.7 749.5,687.1 747.6,687.4 745.6,687.7 743.6,688.0 741.7,688.3 739.7,688.6 737.7,689.0 735.8,689.3 733.8,689.6 731.8,689.9 729.8,690.2 727.9,690.5 725.9,690.9 723.9,691.2 722.0,691.5 720.0,691.8 718.0,692.1 716.0,692.4 714.1,692.7 712.1,693.0 710.1,693.4 708.2,693.7 706.2,694.0 704.2,694.3 702.2,694.6 700.3,694.9 698.3,695.2 696.3,695.5 694.4,695.8 692.4,696.1 690.4,696.4 688.4,696.7 686.5,697.0 684.5,697.3 682.5,697.6 680.5,697.9 678.6,698.2 676.6,698.5 674.6,698.8 672.6,699.1 670.7,699.4 668.7,699.7 666.7,699.9 664.7,700.2 662.8,700.5 660.8,700.8 658.8,701.1 656.8,701.4 654.9,701.6 652.9,701.9 650.9,702.2 648.9,702.5 647.0,702.7 645.0,703.0 643.0,703.3 641.0,703.6 639.0,703.8 637.1,704.1 635.1,704.4 633.1,704.6 631.1,704.9 629.1,705.1 627.2,705.4 625.2,705.6 623.2,705.9 621.2,706.1 619.2,706.4 617.3,706.6 615.3,706.9 613.3,707.1 611.3,707.4 609.3,707.6 607.3,707.8 605.4,708.1 603.4,708.3 601.4,708.5 599.4,708.8 597.4,709.0 595.4,709.2 593.4,709.4 591.5,709.6 589.5,709.9 587.5,710.1 585.5,710.3 583.5,710.5 581.5,710.7 579.5,710.9 577.5,711.1 575.5,711.3 573.6,711.5 571.6,711.7 569.6,711.9 567.6,712.1 565.6,712.3 563.6,712.5 561.6,712.7 559.6,712.8 557.6,713.0 555.6,713.2 553.6,713.4 551.6,713.6 549.6,713.8 547.6,713.9 545.6,714.1 543.7,714.3 541.7,714.5 539.7,714.6 537.7,714.8 535.7,715.0 533.7,715.2 531.7,715.3 529.7,715.5 527.7,715.7 525.7,715.9 523.7,716.0 521.7,716.2 519.7,716.4 517.7,716.6 515.7,716.7 513.7,716.9 511.7,717.1 509.7,717.3 507.7,717.4 505.7,717.6 503.8,717.8 501.8,718.0 499.8,718.2 497.8,718.3 495.8,718.5 493.8,718.7 491.8,718.9 489.8,719.1 487.8,719.2 485.8,719.4 483.8,719.6 481.8,719.8 479.8,720.0 477.8,720.2 475.8,720.4 473.9,720.6 471.9,720.8 469.9,721.0 467.9,721.2 465.9,721.4 463.9,721.6 461.9,721.8 459.9,722.0 457.9,722.2 456.0,722.4 454.0,722.7 452.0,722.9 450.0,723.1 448.0,723.3 446.0,723.6 444.0,723.8 442.1,724.0 440.1,724.3 438.1,724.5 436.1,724.8 434.1,725.0 432.2,725.2 430.2,725.5 428.2,725.8 426.2,726.0 424.2,726.3 422.3,726.6 420.3,726.8 418.3,727.1 416.3,727.4 414.4,727.7 412.4,728.0 410.4,728.3 408.4,728.6 406.5,728.9 404.5,729.2 402.5,729.5 400.6,729.8 398.6,730.1 396.6,730.4 394.7,730.8 392.7,731.1 390.7,731.4 388.8,731.8 386.8,732.1 384.8,732.5 382.9,732.8 380.9,733.2 379.0,733.6 377.0,733.9 375.1,734.3 373.1,734.7 371.2,735.1 369.2,735.5 367.2,735.9 365.3,736.3 363.3,736.7 361.4,737.1 359.5,737.6 357.5,738.0 355.6,738.5 353.6,738.9 351.7,739.4 349.7,739.8 347.8,740.3 345.9,740.7 343.9,741.2 342.0,741.7 340.0,742.2 338.1,742.7 336.2,743.2 334.3,743.7 332.3,744.2 330.4,744.8 328.5,745.3 326.5,745.8 324.6,746.4 322.7,746.9 320.8,747.5 318.8,748.1 316.9,748.6 315.0,749.2 313.1,749.8 311.2,750.4 309.3,751.0 307.3,751.5 305.4,752.1 303.5,752.7 301.6,753.3 299.7,753.9 297.8,754.5 295.9,755.1 293.9,755.7 292.0,756.3 290.1,756.9 288.2,757.5 286.3,758.1 284.4,758.7 282.5,759.4 280.5,760.0 278.6,760.6 276.7,761.2 274.8,761.8 272.9,762.4 271.0,763.0 269.1,763.6 267.2,764.1 265.2,764.7 263.3,765.3 261.4,765.9 259.5,766.5 257.6,767.1 255.7,767.6 253.7,768.2 251.8,768.7 249.9,769.3 248.0,769.8 246.1,770.4 244.1,770.9 242.2,771.4 240.3,772.0 238.4,772.5 236.4,773.0 234.5,773.5 232.6,774.0 230.6,774.5 228.7,774.9 226.8,775.4 224.8,775.9 222.9,776.3 221.0,776.8 219.0,777.2" fill="none" stroke="#00f" stroke-width="5" stroke-linejoin="round" stroke-linecap="round"/>

</g>
<line x1="232.3" y1="112.8" x2="326.5" y2="112.8" stroke="#000" stroke-width="6.5"/>
<line x1="232.3" y1="162.2" x2="326.5" y2="162.2" stroke="#f00" stroke-width="6.5"/>
<line x1="232.3" y1="210.3" x2="326.5" y2="210.3" stroke="#00f" stroke-width="6.5"/>
<text x="335" y="125" class="lg">GCE</text>
<text x="335" y="175" class="lg">PEDOT:PSS/GCE</text>
<text x="335" y="223" class="lg" textLength="451" lengthAdjust="spacingAndGlyphs">AuNPs/PEDOT:PSS/GCE</text>
<text x="193" y="63.4" text-anchor="end" class="tl" textLength="76.73" lengthAdjust="spacingAndGlyphs">90</text>
<text x="193" y="253.6" text-anchor="end" class="tl" textLength="76.73" lengthAdjust="spacingAndGlyphs">60</text>
<text x="193" y="443.8" text-anchor="end" class="tl" textLength="76.73" lengthAdjust="spacingAndGlyphs">30</text>
<text x="193" y="634.0" text-anchor="end" class="tl" textLength="38.36" lengthAdjust="spacingAndGlyphs">0</text>
<text x="193" y="824.2" text-anchor="end" class="tl" textLength="99.70" lengthAdjust="spacingAndGlyphs">-30</text>
<text x="312.2" y="946" text-anchor="middle" class="tl" textLength="118.88" lengthAdjust="spacingAndGlyphs">-0.3</text>
<text x="588.0" y="946" text-anchor="middle" class="tl" textLength="95.91" lengthAdjust="spacingAndGlyphs">0.0</text>
<text x="863.8" y="946" text-anchor="middle" class="tl" textLength="95.91" lengthAdjust="spacingAndGlyphs">0.3</text>
<text x="1139.5" y="946" text-anchor="middle" class="tl" textLength="95.91" lengthAdjust="spacingAndGlyphs">0.6</text>

<text x="772.5" y="1022.5" text-anchor="middle" class="at" textLength="476.4" lengthAdjust="spacingAndGlyphs">Potential/V</text>
<g transform="translate(87.4,0) rotate(-90)">
<text x="-520" y="0" class="at">I</text>
<text x="-497" y="0" class="at">/</text>
<text x="-468.5" y="0" style="font-size:82px;font-weight:normal">µ</text>
<text x="-419.5" y="0" class="at" textLength="71" lengthAdjust="spacingAndGlyphs">A</text>
</g>
</svg>
</body></html>
